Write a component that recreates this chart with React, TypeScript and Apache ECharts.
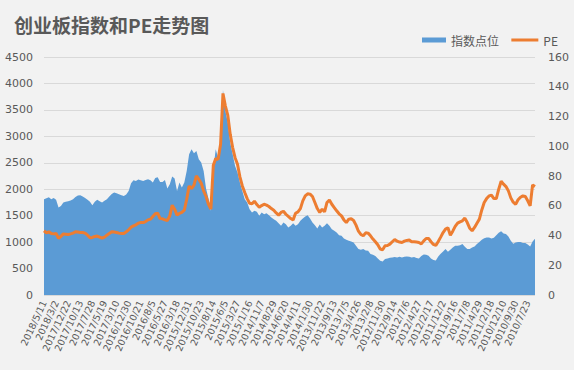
import React, { useEffect, useRef } from "react";
import * as echarts from "echarts";

const TICK_LABELS = [
  "2018/5/11", "2018/3/2", "2017/12/22", "2017/10/13", "2017/7/28", "2017/5/19", "2017/3/10",
  "2016/12/30", "2016/10/21", "2016/8/5", "2016/5/27", "2016/3/18", "2015/12/31", "2015/10/23",
  "2015/8/14", "2015/6/5", "2015/3/27", "2015/1/16", "2014/11/7", "2014/8/29", "2014/6/20",
  "2014/4/11", "2014/1/30", "2013/11/22", "2013/9/13", "2013/7/5", "2013/4/26", "2013/2/8",
  "2012/11/30", "2012/9/14", "2012/7/6", "2012/4/27", "2012/2/17", "2011/12/2", "2011/9/16",
  "2011/7/8", "2011/4/29", "2011/2/18", "2010/12/10", "2010/9/30", "2010/7/23",
];

// 指数点位 (two-week steps, newest first)
const INDEX_VALUES = [
  1811, 1830, 1849, 1811, 1836, 1799, 1654, 1685, 1748, 1761,
  1773, 1786, 1811, 1855, 1880, 1887, 1862, 1836, 1799, 1761,
  1698, 1761, 1799, 1773, 1748, 1780, 1811, 1862, 1912, 1937,
  1924, 1906, 1887, 1874, 1899, 1968, 2113, 2170, 2157, 2182,
  2170, 2157, 2176, 2189, 2170, 2126, 2214, 2226, 2138, 2138,
  2176, 2012, 2094, 2239, 2201, 1968, 2126, 2031, 2126, 2346,
  2660, 2755, 2679, 2723, 2566, 2503, 2346, 2012, 1824, 1591,
  2377, 2755, 2597, 2943, 3874, 3478, 3258, 2880, 2660, 2440,
  2314, 2126, 1968, 1811, 1748, 1623, 1560, 1591, 1572, 1497,
  1560, 1528, 1547, 1509, 1465, 1434, 1402, 1358, 1308, 1371,
  1340, 1277, 1308, 1358, 1308, 1340, 1402, 1446, 1484, 1509,
  1446, 1371, 1321, 1258, 1333, 1277, 1308, 1358, 1308, 1245,
  1214, 1182, 1132, 1119, 1069, 1044, 1025, 1013, 994, 931,
  868, 855, 868, 843, 836, 774, 761, 736, 692, 648,
  635, 679, 692, 704, 711, 717, 711, 723, 711, 723,
  730, 723, 711, 717, 698, 692, 736, 767, 761, 742,
  692, 660, 654, 730, 780, 824, 868, 818, 855, 899,
  931, 931, 943, 962, 912, 868, 868, 899, 918, 962,
  1000, 1044, 1075, 1088, 1088, 1069, 1082, 1132, 1176, 1207,
  1163, 1151, 1107, 1025, 969, 994, 1000, 1000, 981, 981,
  956, 918, 1013, 1063,
];

// PE
const PE_VALUES = [
  43.2, 41.8, 42.5, 41.4, 41.1, 41.4, 38.0, 39.4, 41.1, 40.9,
  40.7, 41.1, 41.6, 42.5, 42.3, 42.0, 42.0, 41.6, 40.2, 38.5,
  38.7, 39.4, 39.6, 38.9, 38.2, 38.9, 40.2, 41.4, 42.5, 42.3,
  42.0, 41.6, 41.4, 41.4, 42.5, 43.8, 45.6, 46.5, 47.2, 48.3,
  48.7, 48.7, 49.4, 50.5, 51.0, 52.8, 54.6, 55.0, 51.4, 51.2,
  50.5, 50.1, 53.2, 60.4, 57.7, 53.7, 54.8, 55.5, 57.0, 64.4,
  73.3, 71.6, 73.8, 80.0, 77.8, 75.1, 70.0, 66.2, 61.0, 57.7,
  87.2, 91.7, 91.2, 101.3, 135.5, 127.0, 120.7, 108.0, 99.1, 92.3,
  87.9, 79.4, 73.3, 68.9, 64.8, 61.7, 61.3, 63.1, 60.8, 59.0,
  60.1, 61.0, 60.4, 59.5, 58.1, 57.0, 55.2, 53.7, 55.5, 56.3,
  54.3, 52.8, 51.4, 50.5, 55.0, 55.9, 58.1, 63.3, 66.6, 68.0,
  67.8, 66.2, 62.2, 58.1, 55.5, 57.7, 55.9, 62.2, 63.9, 61.0,
  58.8, 56.6, 54.6, 53.2, 50.5, 48.7, 51.0, 51.2, 50.1, 47.0,
  42.9, 40.7, 39.8, 41.8, 41.6, 39.8, 37.6, 35.8, 33.8, 30.9,
  30.4, 33.1, 33.3, 34.2, 35.8, 37.3, 36.2, 35.6, 35.3, 36.2,
  36.7, 36.9, 35.8, 35.8, 35.6, 35.3, 34.4, 36.4, 38.0, 38.0,
  35.8, 34.0, 33.3, 36.0, 38.9, 42.0, 44.3, 45.2, 40.2, 42.9,
  46.1, 48.3, 49.2, 49.9, 51.7, 48.7, 44.9, 43.2, 45.4, 48.3,
  51.0, 57.2, 62.2, 64.8, 66.6, 67.1, 64.8, 64.8, 71.1, 76.5,
  74.5, 72.9, 70.0, 65.3, 62.4, 61.0, 64.0, 65.7, 66.6, 66.2,
  63.3, 59.9, 74.0, 73.0,
];

const STEP = 5; // points between labelled ticks (two weeks each)

function buildCategories(): string[] {
  const out: string[] = [];
  for (let k = 0; k < INDEX_VALUES.length; k++) {
    const base = TICK_LABELS[Math.floor(k / STEP)];
    const off = k % STEP;
    if (off === 0) {
      out.push(base);
    } else {
      const [y, m, d] = base.split("/").map(Number);
      const dt = new Date(y, m - 1, d - 14 * off);
      out.push(`${dt.getFullYear()}/${dt.getMonth() + 1}/${dt.getDate()}`);
    }
  }
  return out;
}

const CATEGORIES = buildCategories();

const GREY = "#595959";
const FONT = "'DejaVu Sans', sans-serif";
const CJK = "'Noto Sans CJK SC', sans-serif";

export default function App() {
  const ref = useRef<HTMLDivElement>(null);
  useEffect(() => {
    if (!ref.current) return;
    const chart = echarts.init(ref.current, undefined, { renderer: "svg" });
    const legendText = { fontSize: 12, color: GREY, fontFamily: CJK };
    chart.setOption({
      animation: false,
      backgroundColor: "#f2f2f2",
      title: {
        text: "创业板指数和PE走势图",
        left: 9,
        top: 10,
        textStyle: { fontSize: 19, fontWeight: "bold", color: GREY, fontFamily: CJK },
      },
      legend: [
        {
          right: 70,
          top: 29,
          itemWidth: 24,
          itemHeight: 5,
          textStyle: legendText,
          data: [{ name: "指数点位", icon: "rect" }],
        },
        {
          right: 11,
          top: 29,
          itemWidth: 27,
          itemHeight: 3,
          textStyle: legendText,
          data: [{ name: "PE", icon: "rect" }],
        },
      ],
      grid: { left: 44, right: 39, top: 57, bottom: 75 },
      xAxis: {
        type: "category",
        data: CATEGORIES,
        boundaryGap: false,
        axisLine: { show: false },
        axisTick: { show: false },
        axisLabel: {
          interval: STEP - 1,
          rotate: 65,
          fontSize: 9.5,
          color: GREY,
          fontFamily: FONT,
          margin: 6,
        },
      },
      yAxis: [
        {
          type: "value",
          min: 0,
          max: 4500,
          interval: 500,
          axisLine: { show: false },
          axisTick: { show: false },
          splitLine: { lineStyle: { color: "#d9d9d9", width: 1 } },
          axisLabel: {
            fontSize: 11,
            color: GREY,
            fontFamily: FONT,
            margin: 11,
            formatter: (v: number) => String(v),
          },
        },
        {
          type: "value",
          min: 0,
          max: 160,
          interval: 20,
          axisLine: { show: false },
          axisTick: { show: false },
          splitLine: { show: false },
          axisLabel: {
            fontSize: 11,
            color: GREY,
            fontFamily: FONT,
            margin: 13,
            formatter: (v: number) => String(v),
          },
        },
      ],
      series: [
        {
          name: "指数点位",
          type: "line",
          data: INDEX_VALUES,
          symbol: "none",
          lineStyle: { width: 0 },
          itemStyle: { color: "#5b9bd5" },
          areaStyle: { color: "#5b9bd5", opacity: 1 },
        },
        {
          name: "PE",
          type: "line",
          yAxisIndex: 1,
          data: PE_VALUES,
          symbol: "none",
          lineStyle: { width: 3, color: "#ed7d31" },
          itemStyle: { color: "#ed7d31" },
        },
      ],
    });
    return () => chart.dispose();
  }, []);
  return (
    <div
      ref={ref}
      style={{ position: "fixed", left: 0, top: 0, width: 574, height: 370 }}
    />
  );
}
